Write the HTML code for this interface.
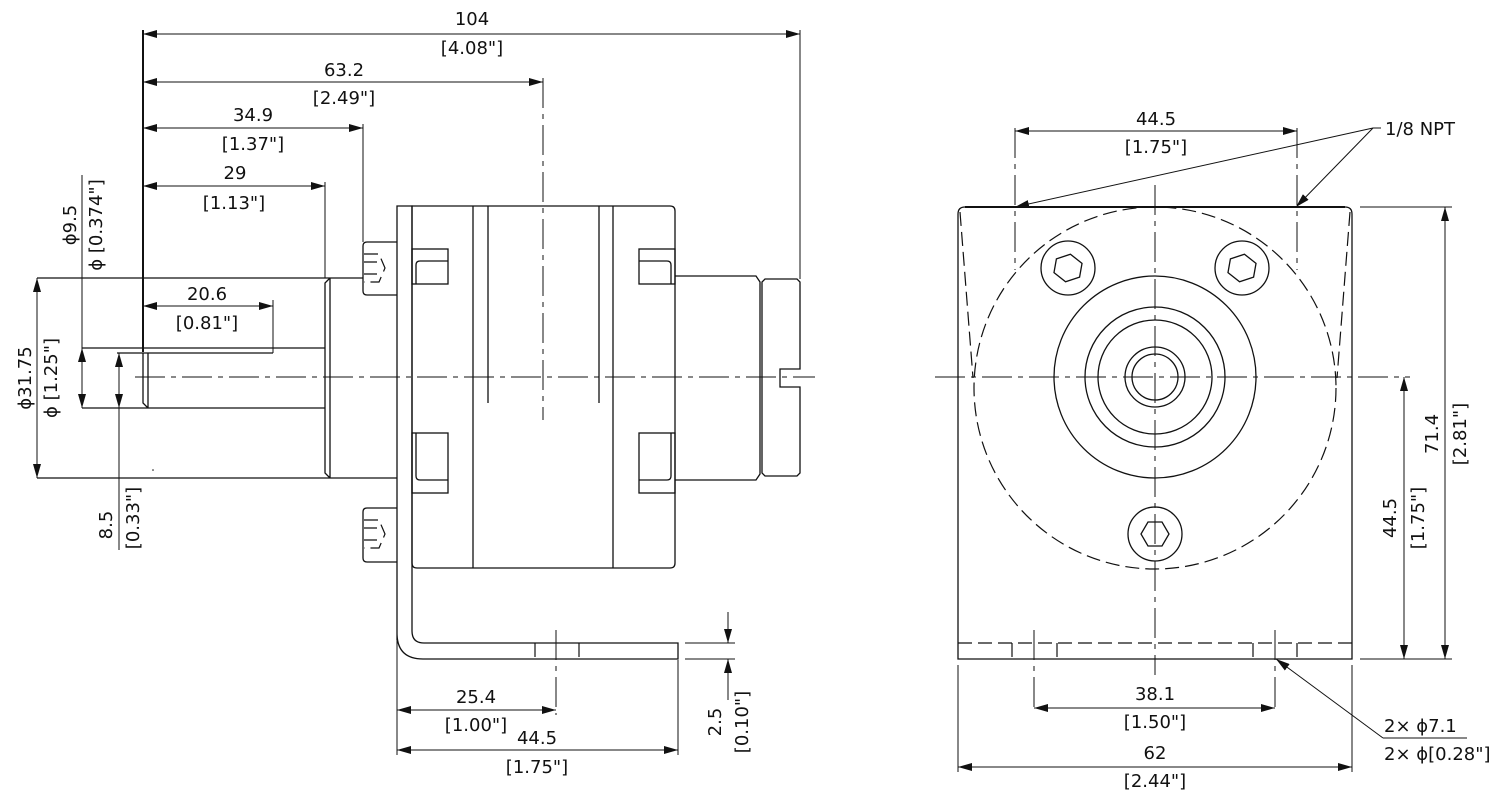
<!DOCTYPE html>
<html><head><meta charset="utf-8"><style>
html,body{margin:0;padding:0;background:#fff;}
svg{display:block;}
text{font-family:"DejaVu Sans","Liberation Sans",sans-serif;font-size:18px;fill:#111;}
.l{stroke:#111;stroke-width:1.3;fill:none;}
.d{stroke:#111;stroke-width:1;fill:none;}
.hid{stroke:#111;stroke-width:1.2;fill:none;stroke-dasharray:14 6;}
.cl{stroke:#111;stroke-width:1;fill:none;stroke-dasharray:30 6 5 6;}
</style></head><body>
<svg width="1493" height="796" viewBox="0 0 1493 796" xmlns="http://www.w3.org/2000/svg">
<defs>
<marker id="a" markerWidth="14" markerHeight="8" refX="14" refY="4" orient="auto-start-reverse" markerUnits="userSpaceOnUse">
<path d="M0,0 L14,4 L0,8 Z" fill="#111"/></marker>
</defs>

<!-- ===== LEFT VIEW ===== -->
<line class="cl" x1="135" y1="377" x2="815" y2="377"/>
<line class="cl" x1="543" y1="78" x2="543" y2="420"/>
<line x1="143" y1="30" x2="143" y2="352" stroke="#111" stroke-width="2"/>
<line class="d" x1="143" y1="34" x2="800" y2="34" marker-start="url(#a)" marker-end="url(#a)"/>
<line class="d" x1="800" y1="30" x2="800" y2="279"/>
<text x="472" y="25" text-anchor="middle">104</text><text x="472" y="54" text-anchor="middle">[4.08"]</text>
<line class="d" x1="143" y1="82" x2="543" y2="82" marker-start="url(#a)" marker-end="url(#a)"/>
<text x="344" y="76" text-anchor="middle">63.2</text><text x="344" y="104" text-anchor="middle">[2.49"]</text>
<line class="d" x1="143" y1="128" x2="363" y2="128" marker-start="url(#a)" marker-end="url(#a)"/>
<line class="d" x1="363" y1="124" x2="363" y2="242"/>
<text x="253" y="121" text-anchor="middle">34.9</text><text x="253" y="150" text-anchor="middle">[1.37"]</text>
<line class="d" x1="143" y1="186" x2="325" y2="186" marker-start="url(#a)" marker-end="url(#a)"/>
<line class="d" x1="325" y1="182" x2="325" y2="278"/>
<text x="235" y="179" text-anchor="middle">29</text><text x="234" y="209" text-anchor="middle">[1.13"]</text>
<line class="d" x1="143" y1="306" x2="273" y2="306" marker-start="url(#a)" marker-end="url(#a)"/>
<line class="d" x1="273" y1="300" x2="273" y2="353"/>
<text x="207" y="300" text-anchor="middle">20.6</text><text x="207" y="329" text-anchor="middle">[0.81"]</text>

<line class="l" x1="82" y1="348" x2="325" y2="348"/>
<line class="l" x1="117" y1="353" x2="273" y2="353"/>
<line class="l" x1="82" y1="408" x2="325" y2="408"/>
<path class="l" d="M143,353 L143,403 L148,408 M148,353 L148,408"/>
<line class="l" x1="37" y1="278" x2="363" y2="278"/>
<line class="l" x1="37" y1="478" x2="397" y2="478"/>
<path class="l" d="M330,278 L325,283 L325,473 L330,478 M330,278 L330,478"/>
<line class="d" x1="37" y1="278" x2="37" y2="478" marker-start="url(#a)" marker-end="url(#a)"/>
<text transform="translate(31,378) rotate(-90)" text-anchor="middle">ϕ31.75</text>
<text transform="translate(57,378) rotate(-90)" text-anchor="middle">ϕ [1.25"]</text>
<line class="d" x1="82" y1="175" x2="82" y2="408"/>
<line class="d" x1="82" y1="378" x2="82" y2="348" marker-end="url(#a)"/>
<line class="d" x1="82" y1="378" x2="82" y2="408" marker-end="url(#a)"/>
<text transform="translate(76,225) rotate(-90)" text-anchor="middle">ϕ9.5</text>
<text transform="translate(102,225) rotate(-90)" text-anchor="middle">ϕ [0.374"]</text>
<line class="d" x1="119" y1="353" x2="119" y2="550"/>
<line class="d" x1="119" y1="380" x2="119" y2="353" marker-end="url(#a)"/>
<line class="d" x1="119" y1="380" x2="119" y2="408" marker-end="url(#a)"/>
<text transform="translate(112,525) rotate(-90)" text-anchor="middle">8.5</text>
<text transform="translate(139,518) rotate(-90)" text-anchor="middle">[0.33"]</text>

<path class="l" d="M397,640 L397,206 L412,206 L412,631 Q412,643 424,643 L678,643 L678,659 L423,659 Q397,659 397,633"/>
<line class="d" x1="397" y1="640" x2="397" y2="755"/>
<line class="hid" x1="535" y1="643" x2="535" y2="659" stroke-dasharray="5 3"/>
<line class="hid" x1="579" y1="643" x2="579" y2="659" stroke-dasharray="5 3"/>
<line class="cl" x1="556" y1="630" x2="556" y2="715"/>
<path class="l" d="M397,242 L367,242 Q363,242 363,246 L363,291 Q363,295 367,295 L397,295"/>
<path class="hid" d="M364,254 L379,254 L385,268 L379,282 L364,282 M364,262 L377,262 M364,274 L377,274" stroke-dasharray="4 3"/>
<path class="l" d="M397,508 L367,508 Q363,508 363,512 L363,558 Q363,562 367,562 L397,562"/>
<path class="hid" d="M364,520 L379,520 L385,534 L379,548 L364,548 M364,528 L377,528 M364,540 L377,540" stroke-dasharray="4 3"/>
<path class="l" d="M412,206 L670,206 Q675,206 675,211 L675,563 Q675,568 670,568 L417,568 Q412,568 412,563 Z"/>
<line class="l" x1="473" y1="206" x2="473" y2="568"/>
<line class="l" x1="613" y1="206" x2="613" y2="568"/>
<line class="l" x1="488" y1="206" x2="488" y2="403"/>
<line class="l" x1="599" y1="206" x2="599" y2="403"/>
<rect class="l" x="412" y="249" width="36" height="35"/>
<path class="l" d="M416,284 L416,265 Q416,261 420,261 L448,261"/>
<rect class="l" x="412" y="433" width="36" height="60"/>
<path class="l" d="M416,433 L416,476 Q416,480 420,480 L448,480"/>
<rect class="l" x="639" y="249" width="36" height="35"/>
<path class="l" d="M671,284 L671,265 Q671,261 667,261 L639,261"/>
<rect class="l" x="639" y="433" width="36" height="60"/>
<path class="l" d="M671,433 L671,476 Q671,480 667,480 L639,480"/>
<path class="l" d="M675,276 L756,276 L760,282 L760,474 L756,480 L675,480"/>
<path class="l" d="M765,279 L797,279 L800,282 L800,369 L780,369 L780,387 L800,387 L800,473 L797,476 L765,476 L762,473 L762,282 Z"/>
<line class="d" x1="685" y1="643" x2="735" y2="643"/>
<line class="d" x1="685" y1="659" x2="735" y2="659"/>
<line class="d" x1="728" y1="612" x2="728" y2="643" marker-end="url(#a)"/>
<line class="d" x1="728" y1="700" x2="728" y2="659" marker-end="url(#a)"/>
<text transform="translate(721,722) rotate(-90)" text-anchor="middle">2.5</text>
<text transform="translate(748,722) rotate(-90)" text-anchor="middle">[0.10"]</text>
<line class="d" x1="397" y1="710" x2="556" y2="710" marker-start="url(#a)" marker-end="url(#a)"/>
<text x="476" y="703" text-anchor="middle">25.4</text><text x="476" y="731" text-anchor="middle">[1.00"]</text>
<line class="d" x1="678" y1="660" x2="678" y2="755"/>
<line class="d" x1="397" y1="750" x2="678" y2="750" marker-start="url(#a)" marker-end="url(#a)"/>
<text x="537" y="744" text-anchor="middle">44.5</text><text x="537" y="773" text-anchor="middle">[1.75"]</text>
<circle cx="153" cy="470" r="0.8" fill="#111"/>

<!-- ===== RIGHT VIEW ===== -->
<line class="cl" x1="935" y1="377" x2="1410" y2="377"/>
<line class="cl" x1="1155" y1="185" x2="1155" y2="675"/>
<path class="l" d="M958,659 L958,214 Q958,207 965,207 L1345,207 Q1352,207 1352,214 L1352,659 Z"/>
<line x1="965" y1="207" x2="1345" y2="207" stroke="#111" stroke-width="2"/>
<circle class="hid" cx="1155" cy="388" r="181" stroke-dasharray="20 6"/>
<line class="hid" x1="960" y1="212" x2="973" y2="378" stroke-dasharray="30 6"/>
<line class="hid" x1="1350" y1="212" x2="1337" y2="378" stroke-dasharray="30 6"/>
<circle class="l" cx="1155" cy="377" r="101"/>
<circle class="l" cx="1155" cy="377" r="70"/>
<circle class="l" cx="1155" cy="377" r="57"/>
<circle class="l" cx="1155" cy="377" r="30"/>
<circle class="l" cx="1155" cy="377" r="23"/>
<circle class="l" cx="1068" cy="268" r="27"/>
<polygon class="l" points="1068,254 1081,261 1081,275 1068,282 1055,275 1055,261" transform="rotate(10 1068 268)"/>
<circle class="l" cx="1242" cy="268" r="27"/>
<polygon class="l" points="1242,254 1255,261 1255,275 1242,282 1229,275 1229,261" transform="rotate(10 1242 268)"/>
<circle class="l" cx="1155" cy="534" r="27"/>
<polygon class="l" points="1141,534 1148,522 1162,522 1169,534 1162,546 1148,546"/>
<line class="hid" x1="958" y1="643" x2="1352" y2="643"/>
<line class="hid" x1="1012" y1="643" x2="1012" y2="659" stroke-dasharray="5 3"/>
<line class="hid" x1="1057" y1="643" x2="1057" y2="659" stroke-dasharray="5 3"/>
<line class="hid" x1="1253" y1="643" x2="1253" y2="659" stroke-dasharray="5 3"/>
<line class="hid" x1="1297" y1="643" x2="1297" y2="659" stroke-dasharray="5 3"/>
<line class="cl" x1="1034" y1="630" x2="1034" y2="712"/>
<line class="cl" x1="1275" y1="630" x2="1275" y2="712"/>
<line class="cl" x1="1015" y1="128" x2="1015" y2="270"/>
<line class="cl" x1="1297" y1="128" x2="1297" y2="270"/>
<line class="d" x1="1015" y1="131" x2="1297" y2="131" marker-start="url(#a)" marker-end="url(#a)"/>
<text x="1156" y="125" text-anchor="middle">44.5</text><text x="1156" y="153" text-anchor="middle">[1.75"]</text>
<line class="d" x1="1373" y1="128" x2="1381" y2="128"/>
<line class="d" x1="1373" y1="128" x2="1015" y2="207" marker-end="url(#a)"/>
<line class="d" x1="1373" y1="128" x2="1296" y2="207" marker-end="url(#a)"/>
<text x="1385" y="135">1/8 NPT</text>
<line class="d" x1="1360" y1="207" x2="1452" y2="207"/>
<line class="d" x1="1360" y1="659" x2="1452" y2="659"/>
<line class="d" x1="1445" y1="207" x2="1445" y2="659" marker-start="url(#a)" marker-end="url(#a)"/>
<text transform="translate(1438,434) rotate(-90)" text-anchor="middle">71.4</text>
<text transform="translate(1466,434) rotate(-90)" text-anchor="middle">[2.81"]</text>
<line class="d" x1="1404" y1="377" x2="1404" y2="659" marker-start="url(#a)" marker-end="url(#a)"/>
<text transform="translate(1396,518) rotate(-90)" text-anchor="middle">44.5</text>
<text transform="translate(1424,518) rotate(-90)" text-anchor="middle">[1.75"]</text>
<line class="d" x1="1034" y1="708" x2="1275" y2="708" marker-start="url(#a)" marker-end="url(#a)"/>
<text x="1155" y="700" text-anchor="middle">38.1</text><text x="1155" y="728" text-anchor="middle">[1.50"]</text>
<line class="d" x1="958" y1="665" x2="958" y2="772"/>
<line class="d" x1="1352" y1="665" x2="1352" y2="772"/>
<line class="d" x1="958" y1="767" x2="1352" y2="767" marker-start="url(#a)" marker-end="url(#a)"/>
<text x="1155" y="759" text-anchor="middle">62</text><text x="1155" y="787" text-anchor="middle">[2.44"]</text>
<line class="d" x1="1383" y1="738" x2="1276" y2="659" marker-end="url(#a)"/>
<line class="d" x1="1383" y1="738" x2="1467" y2="738"/>
<text x="1384" y="732">2× ϕ7.1</text>
<text x="1384" y="760">2× ϕ[0.28"]</text>
</svg>
</body></html>
